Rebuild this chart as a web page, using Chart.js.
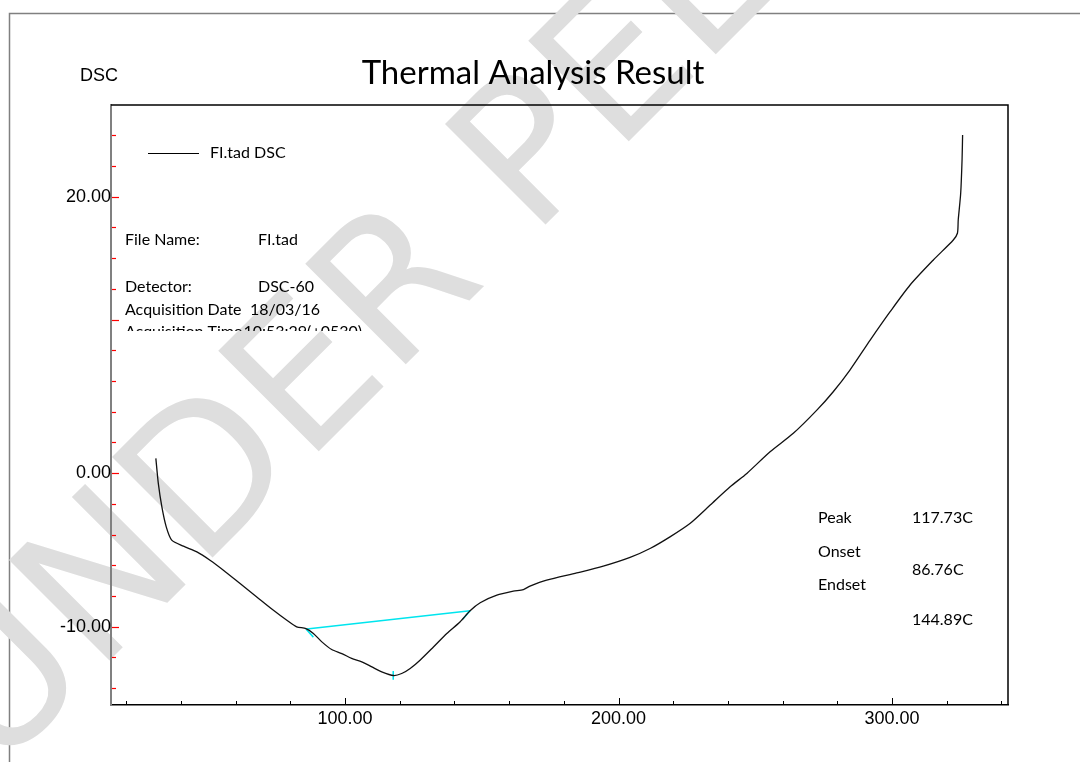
<!DOCTYPE html>
<html>
<head>
<meta charset="utf-8">
<script src="https://cdn.jsdelivr.net/npm/chart.js@4.4.1/dist/chart.umd.min.js"></script>
<style>
  html, body { margin: 0; padding: 0; background: #fff; }
  #wrap { width: 1080px; height: 762px; }
</style>
</head>
<body>
<div id="wrap"><canvas id="dsc"></canvas></div>
<script>
// temperature (C) and DSC signal
var tempC = [30.8, 31.7, 33.0, 34.6, 36.6, 40.9, 45.8, 50.6, 55.5, 61.6, 67.7, 73.8, 78.7, 82.3, 85.7,
  88.4, 91.5, 95.1, 98.8, 102.4, 106.1, 109.8, 113.4, 117.7, 120.7, 123.8, 127.4, 132.3, 137.2, 142.0,
  145.7, 149.4, 155.5, 161.5, 165.2, 167.6, 173.7, 184.7, 194.4, 204.2, 211.5, 218.8, 226.1, 233.5,
  240.8, 246.9, 255.4, 263.9, 272.5, 278.5, 284.6, 292.0, 299.3, 306.6, 315.1, 322.4, 323.9, 324.2,
  325.1, 325.6, 325.8];
var dscValue = [0.96, -0.67, -2.20, -3.50, -4.36, -4.76, -5.13, -5.67, -6.32, -7.19, -8.06, -8.93, -9.58, -10.01, -10.12,
  -10.44, -10.99, -11.49, -11.75, -12.07, -12.29, -12.62, -12.94, -13.18, -13.05, -12.72, -12.18, -11.32, -10.44, -9.69,
  -8.96, -8.44, -7.95, -7.69, -7.58, -7.36, -6.97, -6.50, -6.06, -5.49, -4.91, -4.15, -3.28, -2.08,
  -0.89, -0.02, 1.39, 2.59, 4.10, 5.30, 6.71, 8.66, 10.51, 12.25, 13.88, 15.18, 15.62, 16.48,
  18.22, 20.39, 22.02];

// peak analysis (cyan marks)
var baselineT = [86.0, 145.7];
var baselineY = [-10.15, -8.97];
var onsetMarkT = [85.7, 88.4];
var onsetMarkY = [-10.15, -10.68];
var endsetMarkT = [145.7, 143.0];
var endsetMarkY = [-8.97, -9.52];
var peakMarkT = [117.6, 117.6];
var peakMarkY = [-12.89, -13.45];

// axis ticks and labels as printed
var xLabelValues = [100, 200, 300];
var yTickLabels = [[18, '20.00'], [0, '0.00'], [-10, '-10.00']];
var yLongTicks = [18, 10, 0, -10];

var infoRows = [
  ['File Name:', 'FI.tad'],
  ['Detector:', 'DSC-60'],
  ['Acquisition Date', '18/03/16'],
  ['Acquisition Time', '10:53:29(+0530)']
];
var peakRows = [['Peak', '117.73C'], ['Onset', '86.76C'], ['Endset', '144.89C']];

function pts(xs, ys) {
  return xs.map(function (x, i) { return { x: x, y: ys[i] }; });
}

var decor = {
  id: 'decor',
  beforeDraw: function (chart) {
    var c = chart.ctx;
    c.save();
    c.fillStyle = '#fff';
    c.fillRect(0, 0, chart.width, chart.height);
    // outer frame
    c.strokeStyle = '#808080';
    c.lineWidth = 1.5;
    c.beginPath();
    c.moveTo(9.5, chart.height);
    c.lineTo(9.5, 13.5);
    c.lineTo(chart.width, 13.5);
    c.stroke();
    // watermark
    c.translate(-5, 775);
    c.rotate(-45 * Math.PI / 180);
    c.fillStyle = '#dedede';
    c.font = '195px "DejaVu Sans"';
    c.textBaseline = 'alphabetic';
    c.fillText('UNDER PEER REVIEW', 0, 0);
    c.restore();
  },
  afterDraw: function (chart) {
    var c = chart.ctx;
    var a = chart.chartArea;
    var xs = chart.scales.x, ys = chart.scales.y;
    c.save();
    // top/right plot border
    c.strokeStyle = '#000';
    c.lineWidth = 1.5;
    c.beginPath();
    c.moveTo(a.left, a.top);
    c.lineTo(a.right, a.top);
    c.lineTo(a.right, a.bottom);
    c.stroke();
    // red y ticks pointing inwards
    c.strokeStyle = '#ff0000';
    c.lineWidth = 1.2;
    ys.ticks.forEach(function (t) {
      var py = Math.round(ys.getPixelForValue(t.value)) + 0.5;
      var len = yLongTicks.indexOf(t.value) >= 0 ? 7 : 4;
      c.beginPath();
      c.moveTo(a.left + 1, py);
      c.lineTo(a.left + 1 + len, py);
      c.stroke();
    });
    // black x ticks pointing up
    c.strokeStyle = '#000';
    c.lineWidth = 1;
    xs.ticks.forEach(function (t) {
      var px = Math.round(xs.getPixelForValue(t.value)) + 0.5;
      var len = xLabelValues.indexOf(t.value) >= 0 ? 7 : 4;
      c.beginPath();
      c.moveTo(px, a.bottom);
      c.lineTo(px, a.bottom - len);
      c.stroke();
    });
    // title and axis name
    c.fillStyle = '#000';
    c.textBaseline = 'alphabetic';
    c.textAlign = 'center';
    c.font = '33px Lato';
    c.fillText('Thermal Analysis Result', 533, 84);
    c.textAlign = 'left';
    c.font = '18px "Liberation Sans"';
    c.fillText('DSC', 80, 81);
    // legend
    c.lineWidth = 1.2;
    c.beginPath();
    c.moveTo(148, 153.5);
    c.lineTo(199, 153.5);
    c.stroke();
    c.font = '16px Lato';
    c.fillText('FI.tad DSC', 210, 157.5);
    // file info, last row clipped like the original
    var infoY = [245, 292, 315, 337];
    var valX = [258, 258, 250, 238];
    c.save();
    c.beginPath();
    c.rect(a.left + 2, a.top, 400, 331 - a.top);
    c.clip();
    infoRows.forEach(function (r, i) {
      c.fillText(r[0], 125, infoY[i]);
      var vx = Math.max(valX[i], 125 + c.measureText(r[0]).width + 1);
      c.fillText(r[1], vx, infoY[i]);
    });
    c.restore();
    // peak results
    var labY = [523, 557, 590];
    var numY = [523, 575, 625];
    peakRows.forEach(function (r, i) {
      c.fillText(r[0], 818, labY[i]);
      c.fillText(r[1], 912, numY[i]);
    });
    c.restore();
  }
};

var cyan = '#00e5ee';
var tickFont = { family: 'Liberation Sans', size: 18 };
new Chart(document.getElementById('dsc'), {
  type: 'scatter',
  data: {
    datasets: [
      { label: 'FI.tad DSC', data: pts(tempC, dscValue), showLine: true, borderColor: '#111', borderWidth: 1.3, tension: 0.25, pointRadius: 0 },
      { label: 'baseline', data: pts(baselineT, baselineY), showLine: true, borderColor: cyan, borderWidth: 1.5, pointRadius: 0 },
      { label: 'onset', data: pts(onsetMarkT, onsetMarkY), showLine: true, borderColor: cyan, borderWidth: 1.5, pointRadius: 0 },
      { label: 'endset', data: pts(endsetMarkT, endsetMarkY), showLine: true, borderColor: cyan, borderWidth: 1.5, pointRadius: 0 },
      { label: 'peak', data: pts(peakMarkT, peakMarkY), showLine: true, borderColor: cyan, borderWidth: 1.5, pointRadius: 0 }
    ]
  },
  options: {
    responsive: true,
    maintainAspectRatio: false,
    animation: false,
    layout: { padding: { top: 105, right: 72, left: 0, bottom: 0 } },
    plugins: { legend: { display: false }, tooltip: { enabled: false }, title: { display: false } },
    scales: {
      x: {
        type: 'linear',
        min: 14.4,
        max: 342.4,
        grid: { display: false, drawTicks: false },
        border: { display: true, color: '#000', width: 1.5 },
        ticks: {
          stepSize: 20,
          includeBounds: false,
          autoSkip: false,
          maxRotation: 0,
          padding: 3,
          color: '#000',
          font: tickFont,
          callback: function (v) { return xLabelValues.indexOf(v) >= 0 ? v.toFixed(2) : ''; }
        },
        afterFit: function (s) { s.height = 57; }
      },
      y: {
        type: 'linear',
        min: -15.1,
        max: 23.97,
        grid: { display: false, drawTicks: false },
        border: { display: true, color: '#808080', width: 2 },
        ticks: {
          stepSize: 2,
          includeBounds: false,
          autoSkip: false,
          padding: 0,
          color: '#000',
          font: tickFont,
          callback: function (v) {
            var hit = yTickLabels.filter(function (p) { return p[0] === v; });
            return hit.length ? hit[0][1] : '';
          }
        },
        afterFit: function (s) { s.width = 111; }
      }
    }
  },
  plugins: [decor]
});
</script>
</body>
</html>
